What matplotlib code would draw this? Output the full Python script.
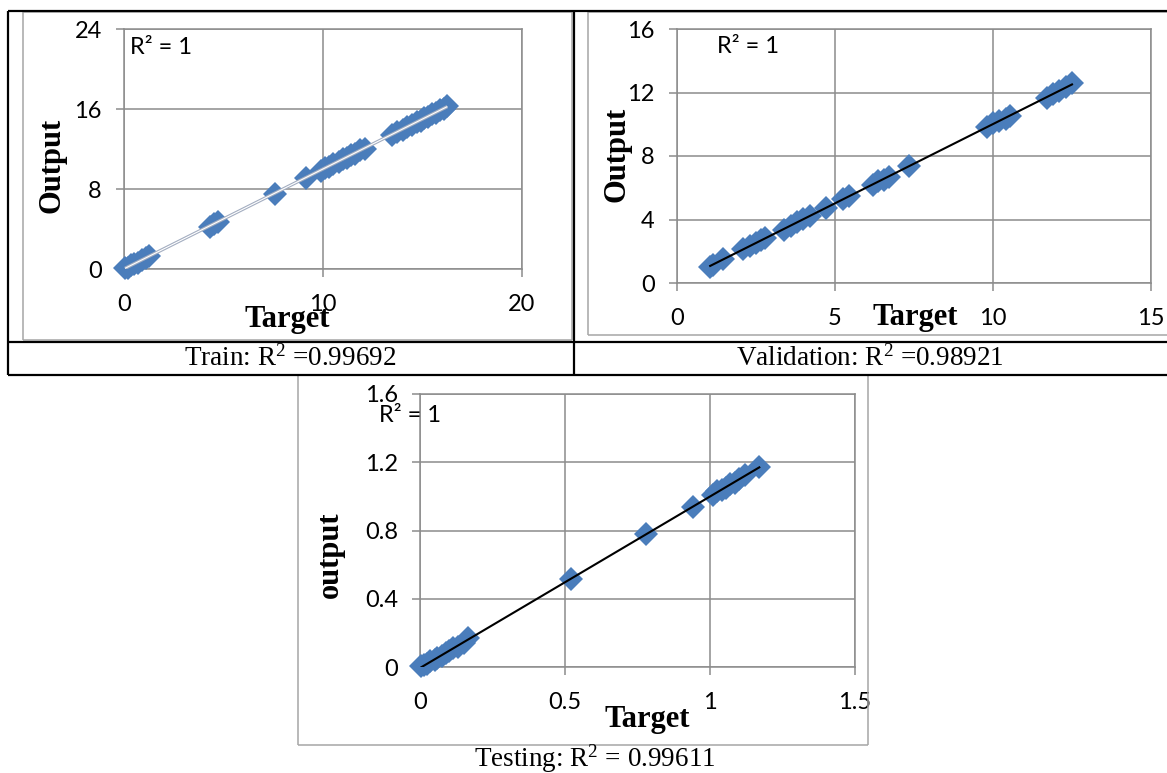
import numpy as np
import matplotlib
matplotlib.use("Agg")
import matplotlib.pyplot as plt
from matplotlib.lines import Line2D

plt.rcParams['mathtext.fontset'] = 'custom'
plt.rcParams['mathtext.rm'] = 'Liberation Serif'
plt.rcParams['mathtext.default'] = 'regular'

# ---------------- data ----------------
train_target = [0.05, 0.2, 0.35, 0.5, 0.7, 0.9, 1.1, 1.25, 4.3, 4.5, 4.7, 7.6, 9.15,
                9.9, 10.1, 10.3, 10.5, 10.8, 11.0, 11.2, 11.4, 11.6, 11.85, 12.1,
                13.45, 13.7, 14.0, 14.2, 14.45, 14.7, 14.9, 15.1, 15.3, 15.5, 15.7,
                15.9, 16.1, 16.25]
train_output = [0.1, 0.15, 0.4, 0.55, 0.65, 0.95, 1.15, 1.3, 4.2, 4.55, 4.75, 7.55, 9.1,
                9.85, 10.15, 10.25, 10.55, 10.75, 11.05, 11.15, 11.45, 11.55, 11.9, 12.05,
                13.4, 13.75, 13.95, 14.25, 14.4, 14.75, 14.85, 15.15, 15.25, 15.55, 15.65,
                15.95, 16.05, 16.3]

val_target = [1.05, 1.15, 1.45, 2.1, 2.3, 2.5, 2.65, 2.8, 3.4, 3.6, 3.8, 4.0, 4.2, 4.7,
              5.25, 5.45, 6.2, 6.35, 6.55, 6.7, 7.35, 9.8, 10.0, 10.2, 10.4, 10.55,
              11.7, 11.9, 12.1, 12.3, 12.5]
val_output = [1.0, 1.15, 1.5, 2.15, 2.35, 2.55, 2.7, 2.85, 3.35, 3.6, 3.85, 4.05, 4.25, 4.75,
              5.3, 5.5, 6.15, 6.4, 6.5, 6.7, 7.35, 9.8, 10.05, 10.2, 10.35, 10.55,
              11.65, 11.9, 12.1, 12.35, 12.6]

test_target = [0.005, 0.015, 0.025, 0.035, 0.05, 0.06, 0.075, 0.09, 0.1, 0.115, 0.13,
               0.15, 0.165, 0.52, 0.78, 0.94, 1.01, 1.025, 1.04, 1.055, 1.07, 1.085,
               1.1, 1.12, 1.17]
test_output = [0.005, 0.01, 0.02, 0.035, 0.04, 0.055, 0.065, 0.08, 0.095, 0.11, 0.12,
               0.14, 0.17, 0.515, 0.78, 0.935, 1.01, 1.03, 1.04, 1.05, 1.07, 1.08,
               1.1, 1.125, 1.17]

panels = [
    dict(t=train_target, o=train_output, xlim=(0, 20), xt=[0, 10, 20],
         ylim=(0, 24), yt=[0, 8, 16, 24], xtl=['0', '10', '20'], ytl=['0', '8', '16', '24'],
         ylabel='Output', r2text='R² = 1'),
    dict(t=val_target, o=val_output, xlim=(0, 15), xt=[0, 5, 10, 15],
         ylim=(0, 16), yt=[0, 4, 8, 12, 16], xtl=['0', '5', '10', '15'], ytl=['0', '4', '8', '12', '16'],
         ylabel='Output', r2text='R² = 1'),
    dict(t=test_target, o=test_output, xlim=(0, 1.5), xt=[0, 0.5, 1, 1.5],
         ylim=(0, 1.6), yt=[0, 0.4, 0.8, 1.2, 1.6], xtl=['0', '0.5', '1', '1.5'],
         ytl=['0', '0.4', '0.8', '1.2', '1.6'], ylabel='output', r2text='R² = 1'),
]
captions = [r'Train: R$^{2}$ =0.99692', r'Validation: R$^{2}$ =0.98921', r'Testing: R$^{2}$ = 0.99611']

# ---------------- layout (pixels) ----------------
W, H = 1167, 773
fig = plt.figure(figsize=(W / 100, H / 100), dpi=100)

def fx(x):
    return x / W

def fy(y):
    return 1 - y / H

def hline(x0, x1, y, color='black', lw=1.6):
    fig.add_artist(Line2D([fx(x0), fx(x1)], [fy(y), fy(y)], transform=fig.transFigure,
                          color=color, lw=lw, solid_capstyle='butt'))

def vline(x, y0, y1, color='black', lw=1.6):
    fig.add_artist(Line2D([fx(x), fx(x)], [fy(y0), fy(y1)], transform=fig.transFigure,
                          color=color, lw=lw, solid_capstyle='butt'))

def rect(x0, y0, x1, y1, color='#a6a6a6', lw=1.1):
    hline(x0, x1, y0, color, lw)
    hline(x0, x1, y1, color, lw)
    vline(x0, y0, y1, color, lw)
    vline(x1, y0, y1, color, lw)

# gray chart-area borders
rect(23, 12, 572, 340)
rect(588, 12, 1170, 335)
rect(298, 375, 868, 745)

# black table lines
hline(8, 1167, 11)
hline(8, 1167, 342)
hline(8, 1167, 375)
vline(8, 11, 375)
vline(574, 11, 375)

axes_px = [(124, 29, 522, 269), (677, 29, 1151, 283), (420, 394, 855, 667)]
ylabel_pos = [(52, 165), (617, 154), (330, 555)]
xlabel_pos = [(287, 320), (915, 318), (647, 720)]
r2_pos = [(0.015, 0.925), (0.084, 0.93), (-0.094, 0.923)]
caption_pos = [(290, 358), (870, 358), (595, 759)]

grid_c = '#8c8c8c'
blue = '#4a7dbb'
tick_font = 'Lato'
tick_size = 17

for i, p in enumerate(panels):
    x0, y0, x1, y1 = axes_px[i]
    ax = fig.add_axes([fx(x0), fy(y1), (x1 - x0) / W, (y1 - y0) / H])
    t = np.array(p['t'])
    o = np.array(p['o'])
    ax.plot(t, o, linestyle='none', marker='D', markersize=12.5, color=blue,
            markeredgewidth=0, zorder=3, clip_on=False)
    m, b = np.polyfit(t, o, 1)
    xs = np.array([t.min(), t.max()])
    if i == 0:
        ax.plot(xs, m * xs + b, color='#a3adc0', lw=2.4, zorder=4, solid_capstyle='butt')
        ax.plot(xs, m * xs + b, color='white', lw=0.8, zorder=5, solid_capstyle='butt')
    else:
        ax.plot(xs, m * xs + b, color='black', lw=1.5, zorder=4)
    ax.set_xlim(*p['xlim'])
    ax.set_ylim(*p['ylim'])
    ax.set_xticks(p['xt'])
    ax.set_yticks(p['yt'])
    ax.set_xticklabels(p['xtl'], fontfamily=tick_font, fontsize=tick_size)
    ax.set_yticklabels(p['ytl'], fontfamily=tick_font, fontsize=tick_size)
    ax.grid(True, color=grid_c, lw=1.1)
    ax.set_axisbelow(True)
    for s in ax.spines.values():
        s.set_color(grid_c)
        s.set_linewidth(1.1)
    ax.tick_params(axis='both', direction='out', length=6, width=1.1, color=grid_c)
    ax.tick_params(axis='x', pad=12)
    ax.tick_params(axis='y', pad=10)
    ax.set_facecolor('white')
    ax.text(r2_pos[i][0], r2_pos[i][1], p['r2text'], transform=ax.transAxes,
            fontfamily=tick_font, fontsize=tick_size, ha='left', va='center')
    fig.text(fx(ylabel_pos[i][0]), fy(ylabel_pos[i][1]), p['ylabel'], rotation=90,
             fontfamily='Liberation Serif', fontweight='bold', fontsize=22,
             ha='center', va='center')
    fig.text(fx(xlabel_pos[i][0]), fy(xlabel_pos[i][1]), 'Target',
             fontfamily='Liberation Serif', fontweight='bold', fontsize=22,
             ha='center', va='center')
    fig.text(fx(caption_pos[i][0]), fy(caption_pos[i][1]), captions[i],
             fontfamily='Liberation Serif', fontsize=19.5, ha='center', va='center')

fig.savefig('out.png', dpi=100)
